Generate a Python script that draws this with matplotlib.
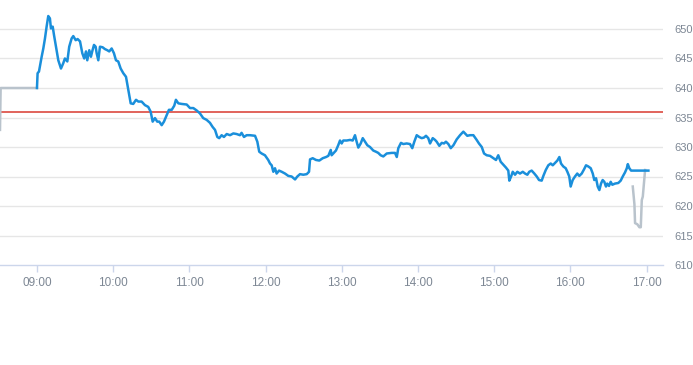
import matplotlib
matplotlib.use("Agg")
import matplotlib.pyplot as plt

# minutes after 09:00 and price for the intraday (blue) series
blue_min = [0, 0.5, 1.6, 3.7, 5.0, 6.3, 7.6, 8.9, 10.2, 11.0, 12.4, 13.4, 15.0, 16.8, 18.9,
            20.7, 22.0, 23.9, 25.4, 27.3, 28.6, 30.5, 32.0, 33.9, 35.7, 37.2, 38.6, 39.6,
            41.2, 42.5, 43.5, 44.9, 46.2, 47.0, 48.3, 49.6, 51.7, 53.5, 55.4, 56.9, 58.8,
            60.6, 62.2, 64.0, 65.9, 68.0, 70.1, 71.9, 73.8, 75.8, 78.0, 79.8, 82.4, 85.0,
            87.6, 89.5, 91.1, 92.9, 94.7, 96.3, 98.2, 100.0, 102.1, 103.9, 106.1, 108.1,
            109.4, 111.3, 113.9, 117.9, 120.5, 123.1, 125.7, 128.3, 130.9, 133.6, 136.2,
            138.3, 140.2, 142.0, 143.5, 145.4, 147.2, 149.4, 152.0, 154.6, 157.2, 159.8,
            161.1, 163.0, 165.1, 167.7, 171.7, 173.5, 175.0, 176.9, 179.5, 182.1, 183.5,
            184.8, 186.1, 187.4, 188.7, 190.6, 192.7, 195.3, 197.9, 200.5, 203.2, 205.0,
            207.1, 209.7, 212.4, 214.2, 215.0, 217.1, 219.7, 222.3, 225.0, 227.6, 229.4,
            231.3, 232.0, 233.3, 235.4, 237.2, 238.6, 239.9, 241.2, 243.9, 246.5, 248.6,
            250.4, 251.7, 253.0, 254.9, 256.5, 258.3, 260.1, 262.2, 264.8, 266.9, 268.7,
            270.6, 272.7, 275.4, 279.3, 281.9, 283.3, 284.5, 286.6, 288.4, 291.1, 293.7,
            295.5, 297.1, 299.0, 301.0, 302.9, 304.7, 306.3, 308.1, 309.5, 311.6, 313.4,
            314.7, 316.8, 318.7, 320.5, 322.0, 323.9, 325.8, 327.9, 330.5, 333.1, 335.7,
            337.0, 338.8, 341.0, 343.6, 346.2, 348.0, 350.2, 352.0, 354.1, 356.7, 359.3,
            361.4, 363.2, 365.1, 367.2, 369.3, 371.1, 371.9, 373.3, 374.6, 376.4, 378.2,
            380.3, 382.5, 384.3, 386.1, 387.6, 389.5, 391.6, 393.5, 395.3, 397.4, 398.7,
            400.6, 402.6, 404.5, 406.1, 407.9, 409.7, 411.3, 412.6, 414.4, 416.3, 417.6,
            419.1, 420.2, 421.8, 423.6, 425.4, 427.0, 428.9, 430.7, 432.3, 434.1, 436.0,
            437.6, 438.8, 440.2, 441.5, 442.8, 444.1, 445.4, 446.7, 448.0, 449.0, 450.4,
            451.7, 453.0, 455.1, 457.7, 459.6, 461.2, 463.0, 464.4, 465.2, 466.4, 467.8,
            481.4]
blue_price = [640.0, 642.5, 642.8, 645.3, 646.7, 648.4, 650.4, 652.2, 651.8, 650.1, 650.4,
              649.0, 647.0, 644.7, 643.3, 644.2, 645.0, 644.5, 647.0, 648.4, 648.8, 648.1,
              648.3, 647.9, 645.9, 645.0, 646.2, 644.7, 646.4, 645.3, 646.2, 647.3, 647.0,
              645.9, 644.7, 647.0, 646.9, 646.6, 646.4, 646.2, 646.7, 645.9, 644.7, 644.5,
              643.3, 642.5, 641.9, 639.7, 637.4, 637.3, 638.0, 637.7, 637.7, 637.1, 636.8,
              636.0, 634.3, 634.9, 634.3, 634.3, 633.7, 634.3, 635.4, 636.3, 636.3, 637.0,
              638.0, 637.4, 637.3, 637.2, 636.6, 636.6, 636.2, 635.7, 634.9, 634.6, 634.1,
              633.4, 632.9, 631.7, 631.5, 632.0, 631.7, 632.2, 632.0, 632.3, 632.2, 632.0,
              632.4, 631.7, 632.0, 632.0, 631.9, 630.9, 629.2, 628.9, 628.6, 627.8, 627.2,
              626.9, 625.8, 626.4, 625.5, 626.0, 625.8, 625.5, 625.1, 625.0, 624.5, 625.0,
              625.4, 625.3, 625.4, 625.8, 627.9, 628.1, 627.8, 627.7, 628.1, 628.3, 628.5,
              629.5, 628.6, 628.9, 629.4, 630.3, 631.1, 630.6, 631.1, 631.1, 631.2, 631.1,
              632.0, 630.9, 629.9, 630.6, 631.5, 630.9, 630.3, 630.0, 629.4, 629.2, 629.0,
              628.6, 628.4, 628.9, 629.0, 629.0, 628.3, 629.8, 630.7, 630.5, 630.6, 630.5,
              629.8, 630.9, 632.0, 631.7, 631.5, 631.6, 631.9, 631.5, 630.6, 631.5, 631.2,
              630.9, 630.2, 630.7, 630.6, 630.9, 630.5, 629.8, 630.3, 631.3, 632.0, 632.6,
              632.3, 631.9, 632.0, 632.0, 631.2, 630.6, 630.0, 628.9, 628.6, 628.5, 628.1,
              627.8, 628.6, 627.5, 627.0, 626.5, 626.0, 624.3, 625.0, 625.8, 625.3, 625.8,
              625.5, 625.8, 625.5, 625.3, 625.8, 626.0, 625.5, 625.0, 624.4, 624.3, 625.1,
              626.1, 626.9, 627.2, 626.9, 627.3, 627.7, 628.3, 627.2, 626.7, 626.4, 625.8,
              625.0, 623.3, 624.4, 625.0, 625.5, 625.1, 625.5, 626.2, 626.9, 626.7, 626.4,
              625.5, 624.4, 624.7, 623.3, 622.7, 623.8, 624.4, 624.1, 623.3, 623.8, 623.4,
              624.1, 623.6, 623.8, 623.9, 624.3, 625.0, 625.7, 626.4, 627.1, 626.4, 626.0,
              626.0]

# grey series: pre-open segment and closing auction segment
pre_min = [-29.1, -28.6, 0]
pre_price = [632.9, 640.0, 640.0]
close_min = [469.1, 470.4, 470.9, 472.7, 474.3, 475.4, 476.2, 477.0, 478.8]
close_price = [623.3, 620.3, 617.1, 616.9, 616.4, 616.4, 621.0, 621.6, 626.1]

ref_price = 635.9
y_ticks = [610, 615, 620, 625, 630, 635, 640, 645, 650]
x_ticks = [0, 60, 120, 180, 240, 300, 360, 420, 480]
x_labels = ["09:00", "10:00", "11:00", "12:00", "13:00", "14:00", "15:00", "16:00", "17:00"]

plt.rcParams['font.family'] = ['Liberation Sans', 'DejaVu Sans']

fig = plt.figure(figsize=(6.93, 3.65), dpi=100)
ax = fig.add_axes([0, 100 / 365, 663 / 693, 265 / 365])

ax.set_xlim(-29.1, 492.9)
ax.set_ylim(610, 610 + 265 / 5.9)

for y in y_ticks[1:]:
    ax.axhline(y, color='#e6e6e6', lw=1, zorder=0)

ax.axhline(ref_price, color='#d9392f', lw=1.1, zorder=2)
ax.plot(pre_min, pre_price, color='#b9c3cc', lw=1.8, zorder=3)
ax.plot(close_min, close_price, color='#b9c3cc', lw=1.8, zorder=3)
ax.plot(blue_min, blue_price, color='#1a8fdb', lw=1.8, zorder=4,
        solid_joinstyle='round')

for s in ['top', 'left', 'right']:
    ax.spines[s].set_visible(False)
ax.spines['bottom'].set_color('#ccd6eb')
ax.spines['bottom'].set_linewidth(1)

ax.set_xticks(x_ticks)
ax.set_xticklabels(x_labels)
ax.tick_params(axis='x', colors='#ccd6eb', length=5, width=1, pad=4,
               labelcolor='#7d8794', labelsize=8.5)

ax.yaxis.tick_right()
ax.set_yticks(y_ticks)
ax.set_yticklabels([str(v) for v in y_ticks])
ax.tick_params(axis='y', length=0, pad=8, labelcolor='#7d8794', labelsize=8)

fig.savefig('out.png', dpi=100)
plt.close(fig)
